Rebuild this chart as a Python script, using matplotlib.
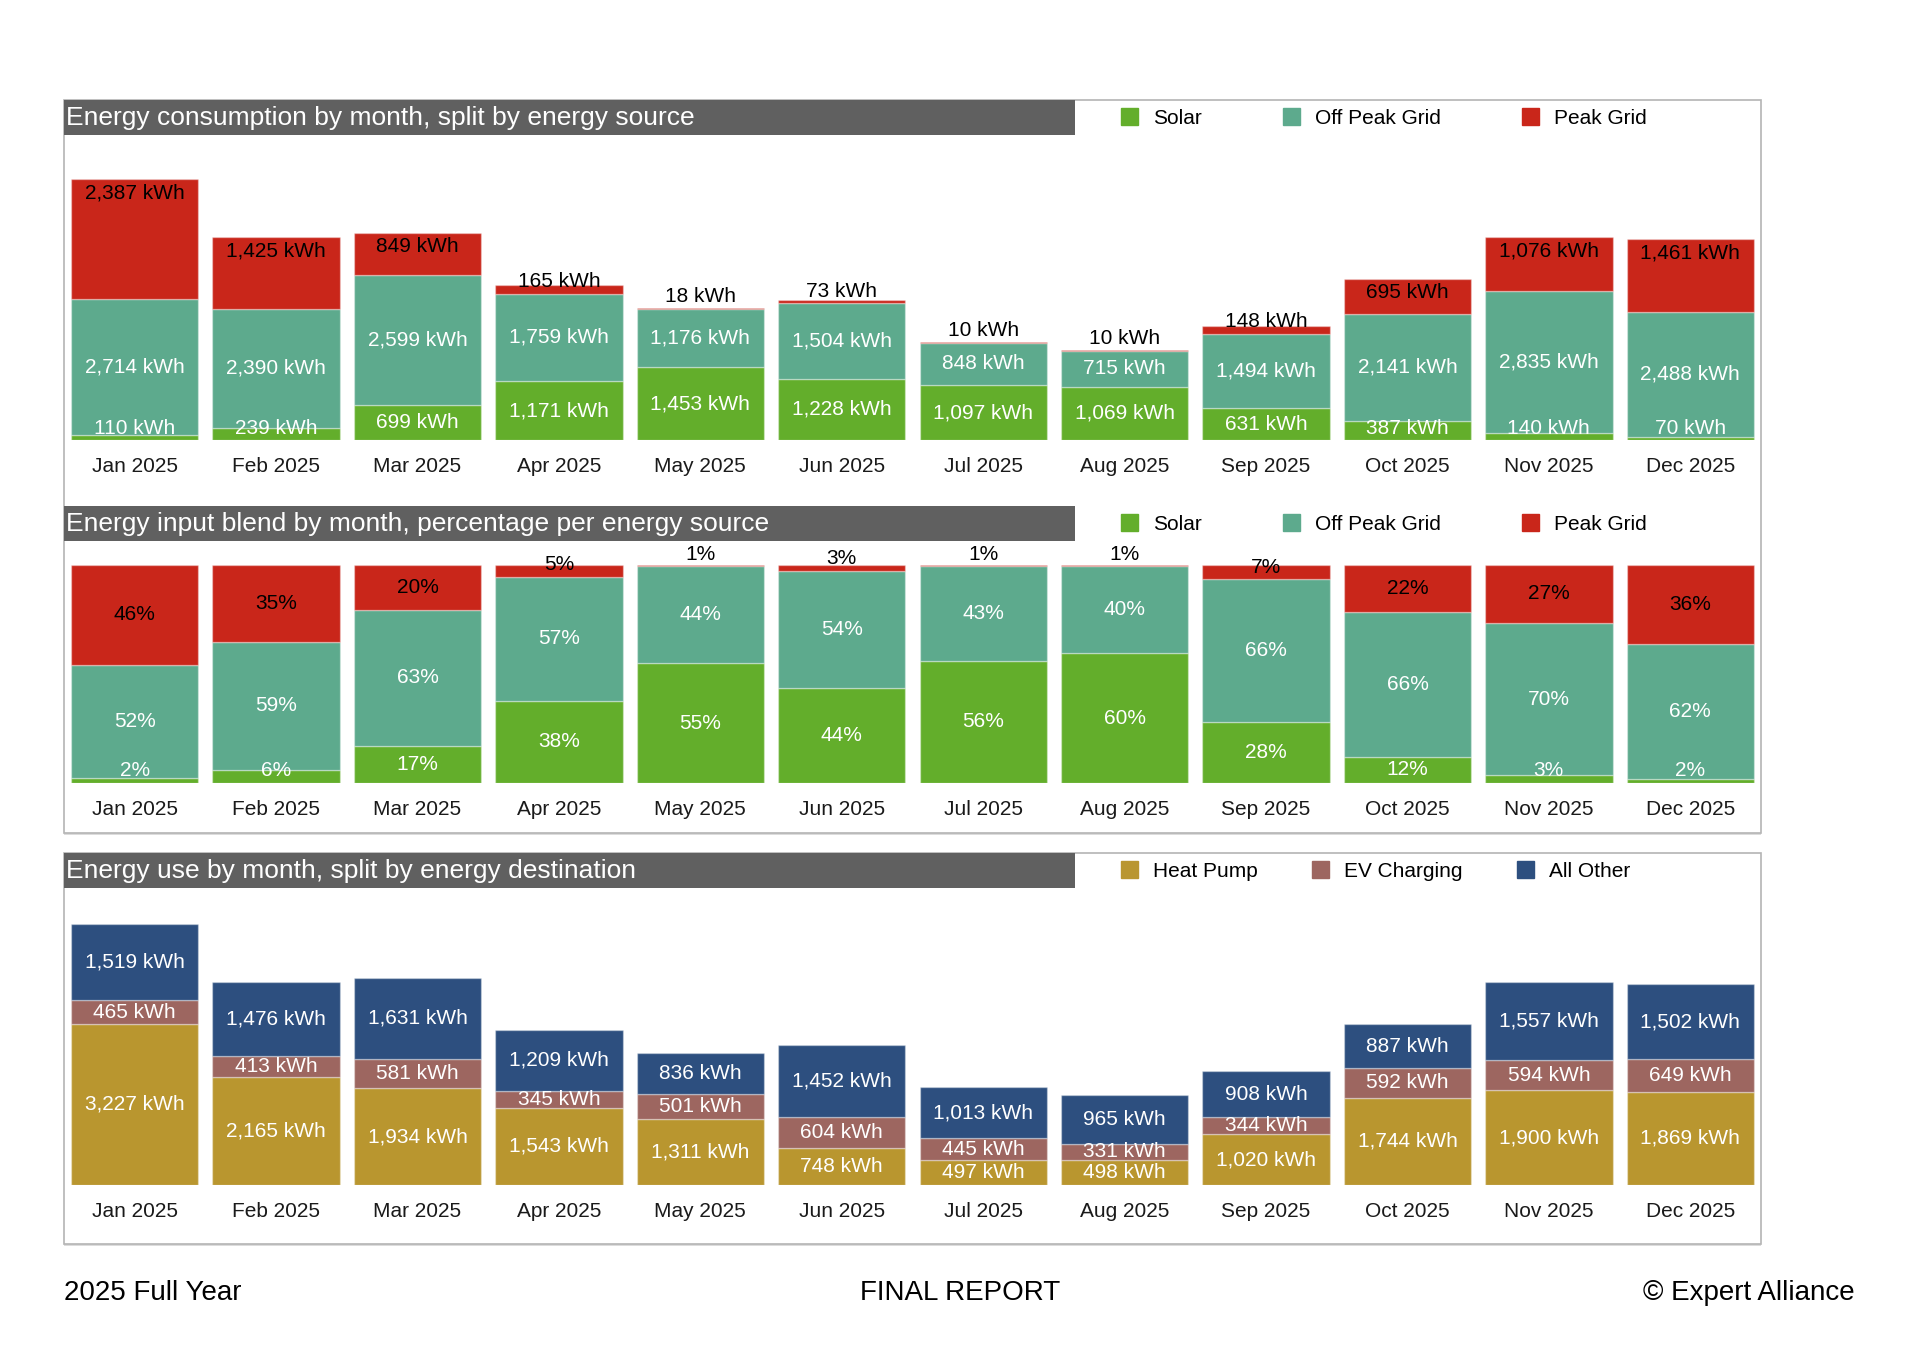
#region: Modules.
import matplotlib.pyplot as plt
from matplotlib.patches import Rectangle, Patch
import numpy as np
#endregion

#region: Variables.
plt.rcParams['font.family'] = ['Liberation Sans', 'DejaVu Sans']

months = ['Jan 2025', 'Feb 2025', 'Mar 2025', 'Apr 2025', 'May 2025', 'Jun 2025',
          'Jul 2025', 'Aug 2025', 'Sep 2025', 'Oct 2025', 'Nov 2025', 'Dec 2025']

# energy source (kWh)
solar = [110, 239, 699, 1171, 1453, 1228, 1097, 1069, 631, 387, 140, 70]
off_peak = [2714, 2390, 2599, 1759, 1176, 1504, 848, 715, 1494, 2141, 2835, 2488]
peak = [2387, 1425, 849, 165, 18, 73, 10, 10, 148, 695, 1076, 1461]

# energy destination (kWh)
heat_pump = [3227, 2165, 1934, 1543, 1311, 748, 497, 498, 1020, 1744, 1900, 1869]
ev_charging = [465, 413, 581, 345, 501, 604, 445, 331, 344, 592, 594, 649]
all_other = [1519, 1476, 1631, 1209, 836, 1452, 1013, 965, 908, 887, 1557, 1502]

source_names = ['Solar', 'Off Peak Grid', 'Peak Grid']
dest_names = ['Heat Pump', 'EV Charging', 'All Other']

titles = ['Energy consumption by month, split by energy source',
          'Energy input blend by month, percentage per energy source',
          'Energy use by month, split by energy destination']

C_SOLAR, C_OFF, C_PEAK = '#63ae2b', '#5daa8d', '#c9261a'
C_HEAT, C_EV, C_OTHER = '#b9962f', '#9d6660', '#2d4f7f'
C_BAR = '#606060'
C_FRAME = '#b4b4b4'

W, H = 1920, 1357
FRAME_L, FRAME_R = 64, 1761
TITLE_R = 1075
LEGEND_X = 1121
KWH_PER_PX = 20.0
#endregion

#region: Functions.
def box(x0, y0, x1, y1):
    return [x0 / W, 1 - y1 / H, (x1 - x0) / W, (y1 - y0) / H]


def make_axes(fig, top, bottom, ymax):
    ax = fig.add_axes(box(FRAME_L, top, FRAME_R, bottom))
    ax.set_facecolor('none')
    ax.set_xlim(-0.5, 11.5)
    ax.set_ylim(0, ymax)
    for s in ax.spines.values():
        s.set_visible(False)
    ax.set_yticks([])
    ax.set_xticks(np.arange(len(months)), months)
    ax.tick_params(axis='x', length=0, pad=12.5, labelsize=15, labelcolor='#1a1a1a')
    return ax


def title_block(fig, top, text, handles, labels, colspace):
    fig.add_artist(Rectangle((FRAME_L / W, 1 - (top + 35) / H), (TITLE_R - FRAME_L) / W, 35 / H,
                             transform=fig.transFigure, facecolor=C_BAR, edgecolor='none'))
    fig.text((FRAME_L + 2) / W, 1 - (top + 18) / H, text, color='white', fontsize=19,
             ha='left', va='center')
    fig.legend(handles, labels, loc='center left', bbox_to_anchor=(LEGEND_X / W, 1 - (top + 18) / H),
               ncol=3, frameon=False, fontsize=15, handlelength=0.82, handleheight=0.82,
               handletextpad=0.72, columnspacing=colspace, borderpad=0, borderaxespad=0)


def draw_stack(ax, series, colors, fmt, text_colors, rules):
    x = np.arange(len(months))
    ylo, yhi = ax.get_ylim()
    per_px = (yhi - ylo) / (ax.get_position().height * H)
    bottom = np.zeros(len(months))
    for vals, color, tc, rule in zip(series, colors, text_colors, rules):
        vals = np.asarray(vals, dtype=float)
        ax.bar(x, vals, 0.9, bottom=bottom, color=color,
               edgecolor=(1, 1, 1, 0.35), linewidth=1.0)
        for i, v in enumerate(vals):
            b, t = bottom[i], bottom[i] + v
            mid = (b + t) / 2
            if rule == 'floor':
                y = max(mid, b + 12 * per_px)
            elif rule == 'top':
                y = max(t - 14 * per_px, b + 12 * per_px)
            elif rule == 'ceil':
                y = max(mid, b + 12 * per_px)
            else:
                y = mid
            ax.text(x[i], y, fmt(v, i), ha='center', va='center', fontsize=15, color=tc)
        bottom += vals
#endregion

#region: Plot.
fig = plt.figure(figsize=(W / 100, H / 100), dpi=100)

# frames
for top, bot in [(100, 833), (853, 1244)]:
    fig.add_artist(Rectangle((FRAME_L / W, 1 - (bot + 2) / H), (FRAME_R - FRAME_L) / W, 2 / H,
                             transform=fig.transFigure, facecolor='#dcdcdc', edgecolor='none'))
    fig.add_artist(Rectangle((FRAME_L / W, 1 - bot / H), (FRAME_R - FRAME_L) / W, (bot - top) / H,
                             transform=fig.transFigure, fill=False, edgecolor=C_FRAME, linewidth=1.2))

src_handles = [Patch(color=c) for c in (C_SOLAR, C_OFF, C_PEAK)]
dst_handles = [Patch(color=c) for c in (C_HEAT, C_EV, C_OTHER)]

# panel 1: kWh by source
ax1 = make_axes(fig, 135, 440, (440 - 135) * KWH_PER_PX)
draw_stack(ax1, [solar, off_peak, peak], [C_SOLAR, C_OFF, C_PEAK],
           lambda v, i: f'{int(v):,} kWh', ['white', 'white', 'black'],
           ['floor', 'center', 'top'])
title_block(fig, 100, titles[0], src_handles, source_names, 3.9)

# panel 2: share by source
totals = np.array(solar) + np.array(off_peak) + np.array(peak)
shares = [100 * np.array(s) / totals for s in (solar, off_peak, peak)]
ax2 = make_axes(fig, 565, 783, 100)
draw_stack(ax2, shares, [C_SOLAR, C_OFF, C_PEAK],
           lambda v, i: f'{v:.0f}%', ['white', 'white', 'black'],
           ['floor', 'center', 'ceil'])
title_block(fig, 506, titles[1], src_handles, source_names, 3.9)

# panel 3: kWh by destination
ax3 = make_axes(fig, 888, 1185, (1185 - 888) * KWH_PER_PX)
draw_stack(ax3, [heat_pump, ev_charging, all_other], [C_HEAT, C_EV, C_OTHER],
           lambda v, i: f'{int(v):,} kWh', ['white', 'white', 'white'],
           ['center', 'center', 'center'])
title_block(fig, 853, titles[2], dst_handles, dest_names, 2.6)

# footer
fig.text(FRAME_L / W, 1 - 1293 / H, '2025 Full Year', fontsize=20, ha='left', va='center')
fig.text(0.5, 1 - 1293 / H, 'FINAL REPORT', fontsize=20, ha='center', va='center')
fig.text(1855 / W, 1 - 1293 / H, '© Expert Alliance', fontsize=20, ha='right', va='center')

fig.savefig('out.png', dpi=100, facecolor='white')
#endregion
